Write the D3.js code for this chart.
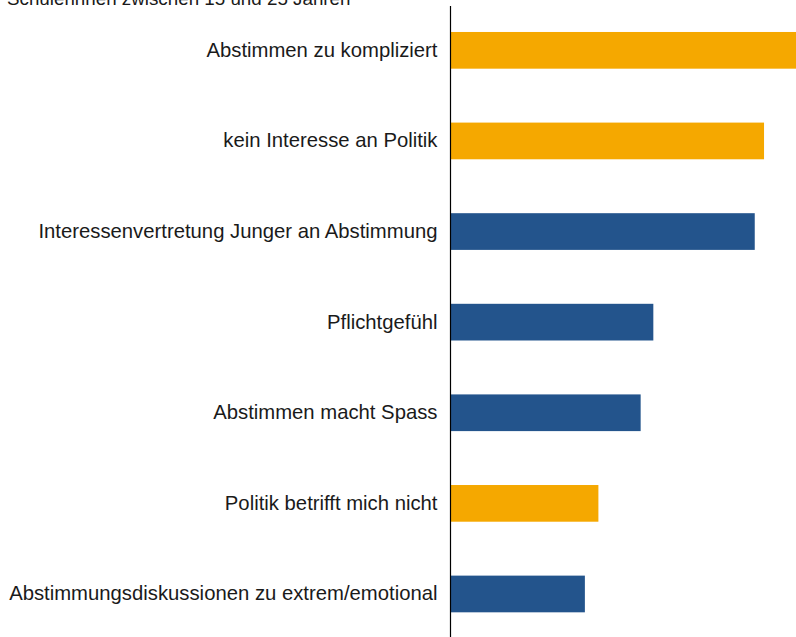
<!DOCTYPE html>
<html lang="de">
	<head>
		<meta charset="utf-8">
		<title>Gründe Abstimmung</title>
		<script src="https://d3js.org/d3.v7.min.js"></script>
		<style type="text/css">
			body, html {
				margin: 0;
				background: #fff;
			}
			svg {
				display: block;
				font-family: "Liberation Sans", Arial, sans-serif;
			}
		</style>
	</head>
	<body>
		<svg width="796" height="637"></svg>
		<script type="text/javascript">
		// data, top to bottom
		var reasons = [
			"Abstimmen zu kompliziert",
			"kein Interesse an Politik",
			"Interessenvertretung Junger an Abstimmung",
			"Pflichtgefühl",
			"Abstimmen macht Spass",
			"Politik betrifft mich nicht",
			"Abstimmungsdiskussionen zu extrem/emotional"
		];
		var values = [41, 37.1, 36, 24, 22.5, 17.5, 15.9];
		// "n" = Grund gegen Teilnahme (orange), "y" = Grund für Teilnahme (blau)
		var kinds = ["n", "n", "y", "y", "y", "n", "y"];
		var title = "Schülerinnen zwischen 15 und 25 Jahren";

		var data = reasons.map(function(r, i) {
			return {reason: r, value: values[i], kind: kinds[i]};
		});

		var colors = {n: "#F5A800", y: "#23548C"};

		var svg = d3.select("svg");

		var x = d3.scaleLinear()
			.domain([0, 41])
			.range([450.5, 797]);

		var y = d3.scaleBand()
			.domain(reasons)
			.range([4.8, 639.5])
			.paddingInner(0.595)
			.paddingOuter(0.3);

		//title, cut off at the top like in the source
		svg.append("text")
			.attr("x", 7)
			.attr("y", 4.5)
			.style("font-size", "18.8px")
			.style("fill", "#1a1a1a")
			.text(title);

		svg.selectAll("rect.bar")
			.data(data)
			.enter()
			.append("rect")
			.attr("class", "bar")
			.attr("x", x(0))
			.attr("y", d => y(d.reason))
			.attr("width", d => x(d.value) - x(0))
			.attr("height", y.bandwidth())
			.style("fill", d => colors[d.kind]);

		var yAxis = d3.axisLeft(y)
			.tickSize(0)
			.tickPadding(13);

		var gy = svg.append("g")
			.attr("transform", "translate(" + x(0) + ",0)")
			.call(yAxis);
		gy.select(".domain").remove();
		gy.selectAll("text")
			.style("font-size", "20.3px")
			.style("font-family", "\"Liberation Sans\", Arial, sans-serif")
			.style("fill", "#1a1a1a");

		svg.append("line")
			.attr("x1", x(0))
			.attr("x2", x(0))
			.attr("y1", 6)
			.attr("y2", 637)
			.style("stroke", "#000")
			.style("stroke-width", 1.2);
		</script>
	</body>
</html>
